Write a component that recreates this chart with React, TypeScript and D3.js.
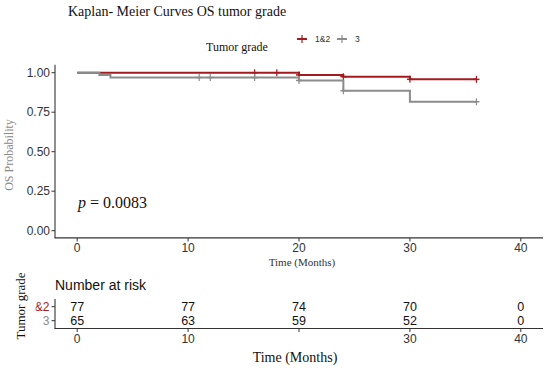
import React from "react";
import * as d3 from "d3";

const W = 550;
const H = 371;

const groups = ["1&2", "3"];
const groupColors = ["#A31B1F", "#8C8C8C"];

const redTimes = [0, 20, 24, 30, 36];
const redSurv = [1, 0.986, 0.975, 0.958, 0.958];
const redCensor = [16, 18, 20, 24, 30, 36];

const greyTimes = [0, 2, 3, 20, 24, 30, 36];
const greySurv = [1, 0.985, 0.969, 0.951, 0.886, 0.816, 0.816];
const greyCensor = [11, 12, 16, 20, 24, 36];

const xTicks = [0, 10, 20, 30, 40];
const yTicks = [0, 0.25, 0.5, 0.75, 1];
const yTickLabels = ["0.00", "0.25", "0.50", "0.75", "1.00"];
const tableTickLabels = ["0", "10", "", "30", "40"];

const riskRed = [77, 77, 74, 70, 0];
const riskGrey = [65, 63, 59, 52, 0];

const sans = "'Liberation Sans', Arial, sans-serif";
const serif = "'Liberation Serif', 'Times New Roman', serif";

function survAt(times: number[], surv: number[], t: number) {
  let v = surv[0];
  for (let i = 0; i < times.length; i++) if (times[i] <= t) v = surv[i];
  return v;
}

export default function App() {
  const x = d3.scaleLinear().domain([-2, 42]).range([55, 543]);
  const y = d3.scaleLinear().domain([-0.05, 1.05]).range([238.6, 64.8]);
  const yT = d3.scalePoint<string>().domain(groups).range([306.7, 320.7]);

  const line = d3
    .line<[number, number]>()
    .x((d) => x(d[0]))
    .y((d) => y(d[1]))
    .curve(d3.curveStepAfter);

  const series = [
    { times: redTimes, surv: redSurv, censor: redCensor, color: groupColors[0] },
    { times: greyTimes, surv: greySurv, censor: greyCensor, color: groupColors[1] },
  ];

  const axisColor = "#333";
  const tickText = "#333";

  return (
    <svg width={W} height={H} style={{ position: "absolute", left: 0, top: 0, background: "#fff" }}>
      <defs>
        <clipPath id="rowclip">
          <rect x={35.5} y={290} width={30} height={40} />
        </clipPath>
      </defs>
      {/* Title */}
      <text x={68} y={16} fontFamily={serif} fontSize={14} fill="#111">
        Kaplan- Meier Curves OS tumor grade
      </text>
      {/* Legend */}
      <text x={206} y={51} fontFamily={serif} fontSize={12} fill="#111">
        Tumor grade
      </text>
      {groups.map((g, i) => {
        const lx = i === 0 ? 297 : 337;
        return (
          <g key={g}>
            <line x1={lx} x2={lx + 10} y1={39} y2={39} stroke={groupColors[i]} strokeWidth={2} />
            <line x1={lx + 5} x2={lx + 5} y1={35} y2={43} stroke={groupColors[i]} strokeWidth={1.2} />
            <text x={lx + 18} y={42} fontFamily={sans} fontSize={8.5} fill="#333">
              {g}
            </text>
          </g>
        );
      })}

      {/* Y axis label */}
      <text
        transform={`translate(13,155) rotate(-90)`}
        textAnchor="middle"
        fontFamily={serif}
        fontSize={12}
        fill="#8a8a8a"
      >
        OS Probability
      </text>

      {/* Curves */}
      {series.map((s, i) => (
        <g key={i}>
          <path
            d={line(s.times.map((t, j) => [t, s.surv[j]] as [number, number])) || ""}
            fill="none"
            stroke={s.color}
            strokeWidth={2}
          />
          {s.censor.map((c, j) => {
            const cy = y(survAt(s.times, s.surv, c));
            return (
              <g key={j}>
                <line x1={x(c)} x2={x(c)} y1={cy - 3.5} y2={cy + 3.5} stroke={s.color} strokeWidth={1.2} />
                <line x1={x(c) - 3} x2={x(c) + 3} y1={cy} y2={cy} stroke={s.color} strokeWidth={1.5} />
              </g>
            );
          })}
        </g>
      ))}

      {/* Main axes */}
      <line x1={55} x2={55} y1={64.8} y2={238.1} stroke={axisColor} strokeWidth={1.1} />
      <line x1={54.5} x2={543} y1={237.9} y2={237.9} stroke={axisColor} strokeWidth={1.1} />
      {yTicks.map((t, i) => (
        <g key={i}>
          <line x1={51.5} x2={55} y1={y(t)} y2={y(t)} stroke={axisColor} strokeWidth={1} />
          <text x={50} y={y(t) + 4.2} textAnchor="end" fontFamily={sans} fontSize={12} fill={tickText}>
            {yTickLabels[i]}
          </text>
        </g>
      ))}
      {xTicks.map((t, i) => (
        <g key={i}>
          <line x1={x(t)} x2={x(t)} y1={238} y2={241.5} stroke={axisColor} strokeWidth={1} />
          <text x={x(t)} y={252} textAnchor="middle" fontFamily={sans} fontSize={12} fill={tickText}>
            {String(t)}
          </text>
        </g>
      ))}
      <text x={302} y={266} textAnchor="middle" fontFamily={serif} fontSize={11} fill="#333">
        Time (Months)
      </text>

      {/* p value */}
      <text x={78} y={208} fontFamily={serif} fontSize={16} fill="#111">
        <tspan fontStyle="italic">p</tspan>
        <tspan> = 0.0083</tspan>
      </text>

      {/* Risk table */}
      <text x={55} y={290} fontFamily={sans} fontSize={14} fill="#111">
        Number at risk
      </text>
      <text
        transform={`translate(25,306) rotate(-90)`}
        textAnchor="middle"
        fontFamily={serif}
        fontSize={13}
        fill="#111"
      >
        Tumor grade
      </text>
      <line x1={55} x2={55} y1={299} y2={328.7} stroke={axisColor} strokeWidth={1.1} />
      <line x1={54.5} x2={543} y1={328.5} y2={328.5} stroke={axisColor} strokeWidth={1.1} />
      {groups.map((g, i) => (
        <g key={g}>
          <line x1={51.5} x2={55} y1={yT(g)!} y2={yT(g)!} stroke={axisColor} strokeWidth={1} />
          <text
            x={49.5}
            y={yT(g)! + 4.3}
            textAnchor="end"
            fontFamily={sans}
            fontSize={12}
            fill={groupColors[i]}
            clipPath="url(#rowclip)"
          >
            {g}
          </text>
        </g>
      ))}
      {xTicks.map((t, i) => (
        <g key={i}>
          <text x={x(t)} y={yT(groups[0])! + 4.5} textAnchor="middle" fontFamily={sans} fontSize={12.5} fill="#111">
            {riskRed[i]}
          </text>
          <text x={x(t)} y={yT(groups[1])! + 4.5} textAnchor="middle" fontFamily={sans} fontSize={12.5} fill="#111">
            {riskGrey[i]}
          </text>
          <line x1={x(t)} x2={x(t)} y1={328.5} y2={332} stroke={axisColor} strokeWidth={1} />
          <text x={x(t)} y={342.5} textAnchor="middle" fontFamily={sans} fontSize={12} fill={tickText}>
            {tableTickLabels[i]}
          </text>
        </g>
      ))}
      <text x={295} y={362} textAnchor="middle" fontFamily={serif} fontSize={14} fill="#111">
        Time (Months)
      </text>
    </svg>
  );
}
